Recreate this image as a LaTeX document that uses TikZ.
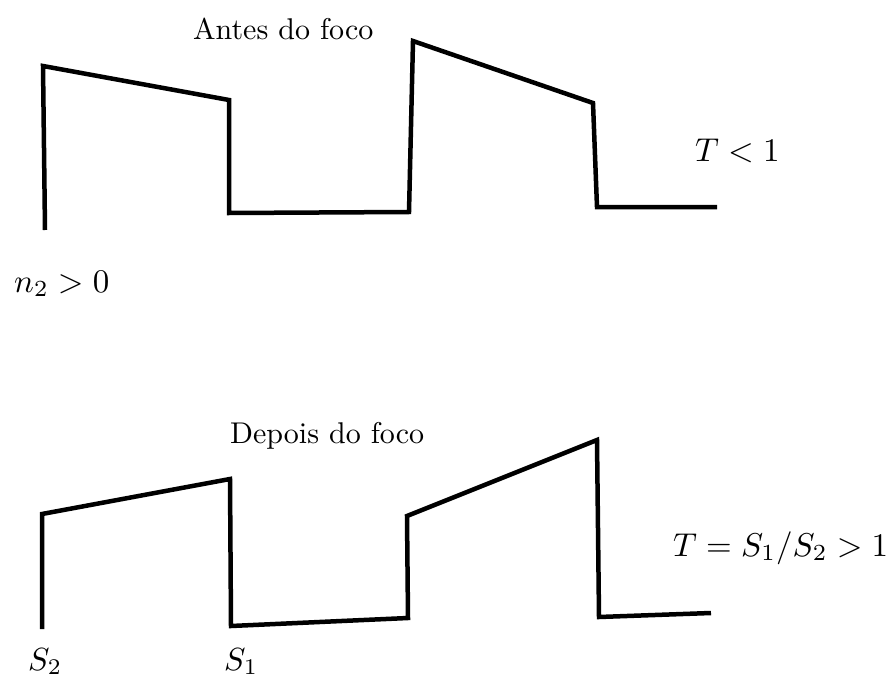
\documentclass[tikz,border=0pt]{standalone}
\usepackage{graphicx}
\begin{document}
\begin{tikzpicture}[x=1pt,y=-1pt,
  wave/.style={line width=4.5pt,line join=miter,line cap=butt},
  lbl/.style={inner sep=0pt,anchor=base west}]
\useasboundingbox (0,0) rectangle (889,682);
% top wave
\draw[wave] (45,230) -- (43,66) -- (229,100) -- (229,213) -- (409,212) -- (413,41) -- (593,103) -- (597,207) -- (717,207);
% bottom wave
\draw[wave] (42,629) -- (42,514) -- (230,479) -- (231,626) -- (408,618) -- (407,516) -- (597,440) -- (599,617) -- (711,613);
\node[lbl] (antes) at (193,40) {\scalebox{3.0}{Antes do foco}};
\node[lbl] (depois) at (230,443) {\scalebox{3.0}{Depois do foco}};
\node[lbl] (tl) at (695,161) {\scalebox{3.3}{$T<1$}};
\node[lbl] (n2) at (14,292) {\scalebox{3.3}{$n_2>0$}};
\node[lbl] (tg) at (673,556) {\scalebox{3.3}{$T=S_1/S_2>1$}};
\node[lbl] (s2) at (28,670) {\scalebox{3.2}{$S_2$}};
\node[lbl] (s1) at (224,670) {\scalebox{3.2}{$S_1$}};
\end{tikzpicture}
\end{document}
